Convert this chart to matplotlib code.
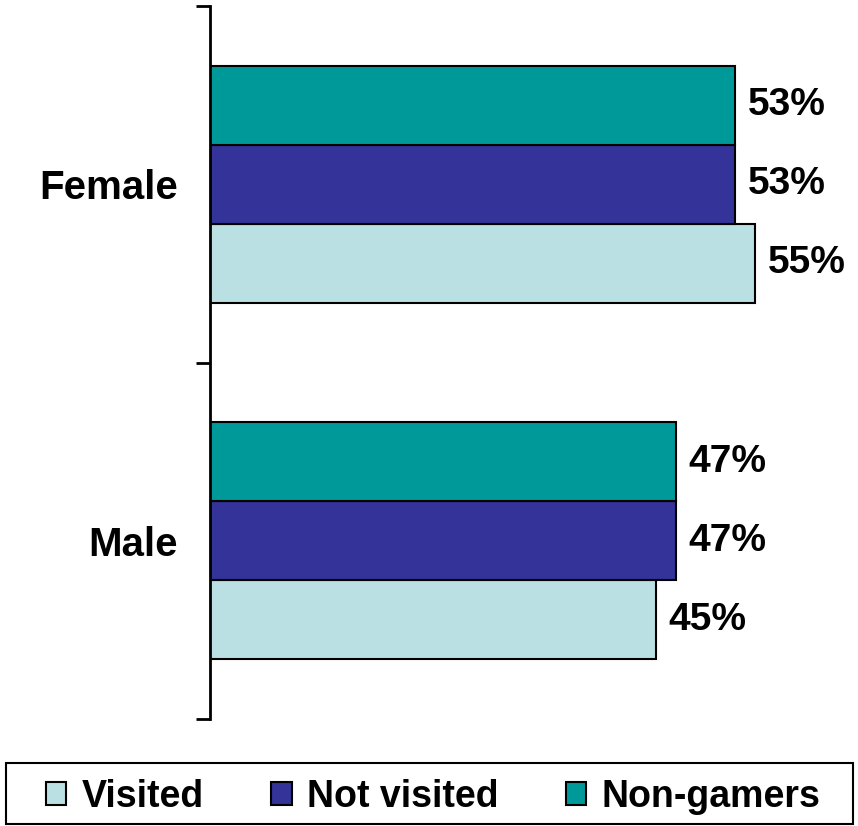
import numpy as np
import matplotlib.pyplot as plt
from matplotlib.patches import Patch, Rectangle

plt.rcParams["font.family"] = ["Liberation Sans", "DejaVu Sans"]
plt.rcParams["font.weight"] = "bold"

# =========================
# Data
# =========================

categories = ["Male", "Female"]
visited = [45, 55]
not_visited = [47, 53]
non_gamers = [47, 53]

series_names = ["Visited", "Not visited", "Non-gamers"]
colors = ["#BBE0E3", "#333399", "#009999"]

# =========================
# Plot
# =========================

fig = plt.figure(figsize=(8.58, 8.26), dpi=100)
ax = fig.add_axes([210 / 858, 107 / 826, 644 / 858, 713 / 826])

y = np.arange(len(categories))
h = 0.222
offsets = [-h, 0.0, h]

for vals, off, col in zip([visited, not_visited, non_gamers], offsets, colors):
    bars = ax.barh(y + off, vals, height=h, color=col, edgecolor="black", linewidth=1.5)
    for b, v in zip(bars, vals):
        ax.annotate(f"{v}%", (b.get_width(), b.get_y() + b.get_height() / 2),
                    xytext=(9, 0), textcoords="offset points",
                    ha="left", va="center", fontsize=28, fontweight="bold")

ax.set_xlim(0, 65)
ax.set_ylim(-0.5, 1.5)

for s in ["top", "right", "bottom"]:
    ax.spines[s].set_visible(False)
ax.spines["left"].set_linewidth(2)

ax.set_xticks([])
ax.set_yticks(y)
ax.set_yticklabels(categories, fontsize=29, fontweight="bold")
ax.tick_params(axis="y", which="major", length=0, pad=23)
ax.set_yticks([-0.5, 0.5, 1.5], minor=True)
ax.tick_params(axis="y", which="minor", length=10, width=2)

# legend frame drawn separately so it spans the figure width
fig.patches.append(Rectangle((6 / 858, 2 / 826), 847 / 858, 61 / 826,
                             transform=fig.transFigure, facecolor="white",
                             edgecolor="black", linewidth=1.5))

handles = [Patch(facecolor=c, edgecolor="black", linewidth=1.5) for c in colors]
leg = fig.legend(handles, series_names, loc="center",
                 bbox_to_anchor=(433 / 858, 29 / 826),
                 ncol=3, frameon=False, borderaxespad=0,
                 handlelength=0.55, handleheight=0.55,
                 handletextpad=0.4, columnspacing=1.8,
                 prop={"size": 27, "weight": "bold"})

fig.savefig("out.png", dpi=100)
